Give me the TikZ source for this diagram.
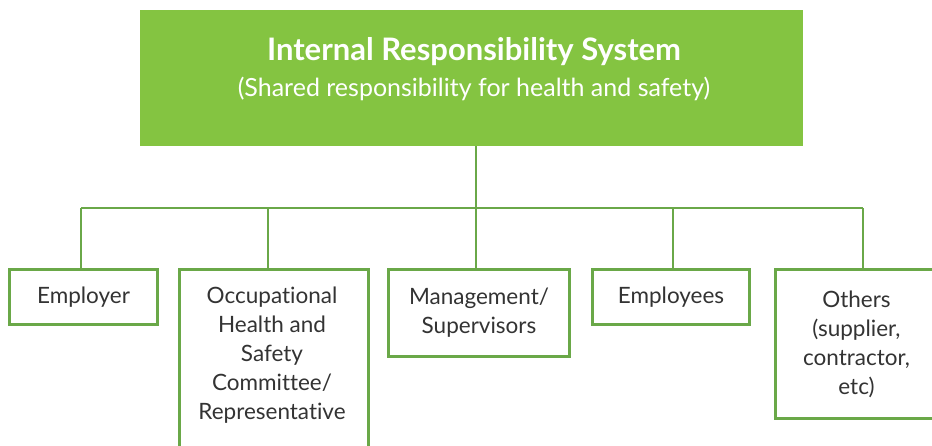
\documentclass[tikz,border=0pt]{standalone}
\usepackage{fontspec}
\setmainfont{Lato}[Ligatures=NoCommon]
\definecolor{irsfill}{RGB}{132,196,65}
\definecolor{irsline}{RGB}{106,168,72}
\definecolor{irstext}{RGB}{51,51,51}
\begin{document}
\begin{tikzpicture}[x=1pt,y=-1pt,
  rolebox/.style={draw=irsline,line width=3pt,anchor=north west,inner sep=0pt,
    align=center,text=irstext,font=\fontsize{22.5}{29}\selectfont},
  link/.style={draw=irsline,line width=1.4pt}]
  \useasboundingbox (0,0) rectangle (932,445);
  % header box
  \node[fill=irsfill,anchor=north west,minimum width=663pt,minimum height=136pt,
        inner sep=0pt] (top) at (140,10) {};
  \node[text=white,font=\bfseries\fontsize{31}{36}\selectfont] (title) at (474,52)
        {Internal Responsibility System};
  \node[text=white,font=\fontsize{25}{30}\selectfont] (sub) at (474,89)
        {(Shared responsibility for health and safety)};
  % role boxes
  \node[rolebox,minimum width=148pt,minimum height=55pt] (emp) at (8,268) {Employer};
  \node[rolebox,minimum width=189pt,minimum height=190pt] (ohs) at (178,268) {};
  \node[text=irstext,align=center,font=\fontsize{22.5}{29}\selectfont,anchor=north]
        (ohstext) at (272,283) {Occupational\\Health and\\Safety\\Committee/\\Representative};
  \node[rolebox,minimum width=181pt,minimum height=87pt] (mgmt) at (387,268) {Management/\\Supervisors};
  \node[rolebox,minimum width=157pt,minimum height=55pt] (empl) at (591,268) {Employees};
  \node[rolebox,minimum width=162pt,minimum height=149pt] (oth) at (774,268)
        {Others\\(supplier,\\contractor,\\etc)};
  % connectors
  \coordinate (d1) at (81,208);
  \coordinate (d2) at (268,208);
  \coordinate (d3) at (476,208);
  \coordinate (d4) at (673,208);
  \coordinate (d5) at (863,208);
  \draw[link] (top.south -| d3) -- (d3);
  \draw[link] (d1) -- (d5);
  \draw[link] (d1) -- (d1 |- emp.north);
  \draw[link] (d2) -- (d2 |- ohs.north);
  \draw[link] (d3) -- (d3 |- mgmt.north);
  \draw[link] (d4) -- (d4 |- empl.north);
  \draw[link] (d5) -- (d5 |- oth.north);
\end{tikzpicture}
\end{document}
